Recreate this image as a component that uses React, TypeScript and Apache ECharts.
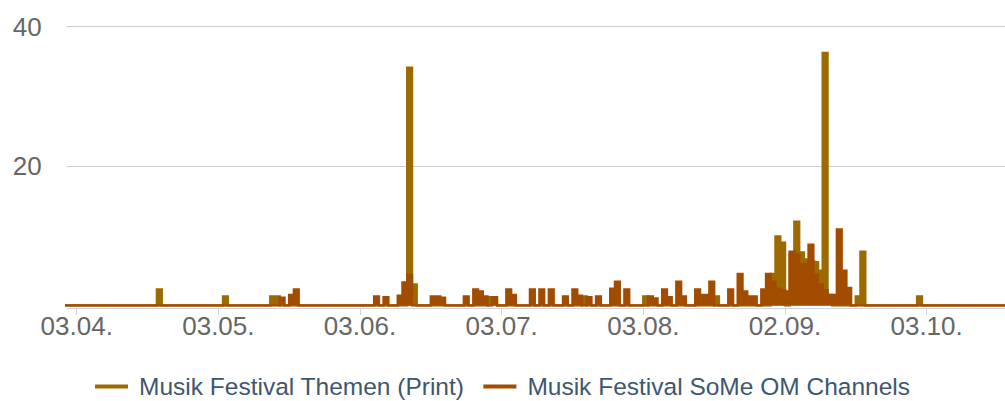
import React, { useEffect, useRef } from "react";
import * as echarts from "echarts";

// Day index 0 = 03.04. ; one unit = one day
const FIRST_DAY = -3;
const LAST_DAY = 198;

const tickDays = [0, 30, 60, 90, 120, 150, 180];
const tickLabels = ["03.04.", "03.05.", "03.06.", "03.07.", "03.08.", "02.09.", "03.10."];

const seriesNames = ["Musik Festival Themen (Print)", "Musik Festival SoMe OM Channels"];
const seriesColors = ["#9c6a00", "#a24c00"];

// [day, value] for days with a non-zero value; all other days are 0
const printValues: [number, number][] = [
  [17, 2.3], [31, 1.3], [41, 1.3], [42, 1.3], [70, 34.1], [71, 3.0],
  [87, 1.2], [88, 1.0], [107, 1.3], [120, 1.3], [135, 1.3],
  [147, 4.5], [148, 9.9], [149, 9.0], [151, 7.3], [152, 12.0], [153, 7.6],
  [154, 6.6], [155, 6.3], [156, 6.2], [157, 5.0], [158, 36.2], [159, 1.5],
  [165, 1.3], [166, 7.7], [178, 1.3],
];

const someValues: [number, number][] = [
  [43, 1.1], [45, 1.5], [46, 2.3], [63, 1.3], [65, 1.2], [68, 1.4], [69, 3.3], [70, 4.4],
  [75, 1.3], [76, 1.3], [77, 1.1], [82, 1.3], [84, 2.3], [85, 2.0], [86, 1.3], [88, 1.2],
  [91, 2.3], [92, 1.5], [96, 2.3], [98, 2.3], [100, 2.3], [103, 1.3], [105, 2.3], [106, 1.4],
  [108, 1.2], [110, 1.3], [113, 2.4], [114, 3.4], [116, 2.3], [121, 1.3], [122, 1.0],
  [124, 2.3], [125, 1.2], [127, 3.4], [128, 1.3], [131, 2.3], [132, 1.5], [133, 1.5],
  [134, 3.4], [138, 2.3], [140, 4.5], [141, 2.0], [142, 1.3], [143, 1.3], [145, 2.3],
  [146, 4.5], [147, 3.4], [148, 2.4], [149, 2.2], [150, 2.0], [151, 7.7], [152, 7.3],
  [153, 6.0], [154, 6.0], [155, 8.7], [156, 4.4], [157, 3.0], [158, 2.2], [159, 1.5],
  [160, 1.5], [161, 10.9], [162, 5.0], [163, 2.5],
];

const FONT = '"Liberation Sans", Arial, Helvetica, sans-serif';

function fillDays(values: [number, number][]): [number, number][] {
  const m = new Map<number, number>(values);
  const out: [number, number][] = [];
  for (let d = FIRST_DAY; d <= LAST_DAY; d++) out.push([d, m.get(d) ?? 0]);
  return out;
}

function makeSeries(i: number, values: [number, number][]) {
  const c = seriesColors[i];
  return {
    name: seriesNames[i],
    type: "line",
    step: "end",
    data: fillDays(values),
    symbol: "none",
    showSymbol: false,
    lineStyle: { color: c, width: 2.5, join: "miter", cap: "butt" },
    itemStyle: { color: c },
    areaStyle: { color: c, opacity: 1 },
    z: 2 + i,
  };
}

export default function App() {
  const ref = useRef<HTMLDivElement>(null);
  useEffect(() => {
    if (!ref.current) return;
    const chart = echarts.init(ref.current, undefined, { renderer: "svg" });
    chart.setOption({
      animation: false,
      grid: { left: 66.7, right: 0, top: 26.5, bottom: 95.5, containLabel: false },
      xAxis: {
        type: "value",
        min: -2.12,
        max: 196.6,
        offset: 2.5,
        axisLine: { onZero: false, lineStyle: { color: "#ccd6eb", width: 1 } },
        axisTick: { show: true, length: 7, lineStyle: { color: "#ccd6eb" }, customValues: tickDays },
        axisLabel: {
          customValues: tickDays,
          formatter: (v: number) => {
            const k = tickDays.indexOf(Math.round(v));
            return k >= 0 ? tickLabels[k] : "";
          },
          color: "#666666",
          fontSize: 26,
          fontFamily: FONT,
          margin: 5,
        },
        splitLine: { show: false },
      },
      yAxis: {
        type: "value",
        min: 0,
        max: 40,
        interval: 20,
        axisLine: { show: false },
        axisTick: { show: false },
        axisLabel: {
          formatter: (v: number) => (v === 0 ? "" : String(v)),
          color: "#666666",
          fontSize: 26,
          fontFamily: FONT,
          margin: 25,
        },
        splitLine: { lineStyle: { color: "#cccccc", width: 1 } },
      },
      legend: {
        left: "center",
        top: 369,
        icon: "rect",
        itemWidth: 33,
        itemHeight: 4,
        itemGap: 19,
        textStyle: { color: "#3e5770", fontSize: 24.5, fontFamily: FONT, padding: [0, 0, 0, 6] },
        data: seriesNames,
      },
      series: [makeSeries(0, printValues), makeSeries(1, someValues)],
    });
    return () => chart.dispose();
  }, []);
  return (
    <div
      ref={ref}
      style={{ position: "fixed", left: 0, top: 0, width: 1005, height: 401, background: "#ffffff" }}
    />
  );
}
